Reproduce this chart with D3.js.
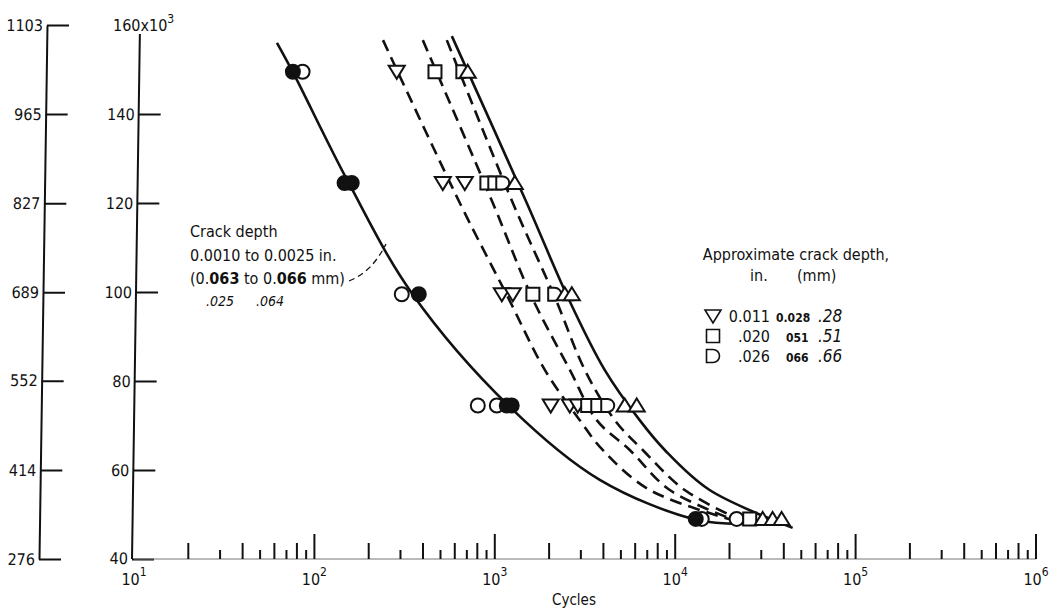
<!DOCTYPE html>
<html><head><meta charset="utf-8">
<script src="https://cdn.jsdelivr.net/npm/d3@7"></script>
<style>
html,body{margin:0;padding:0;background:#fff;}
svg{display:block;}
text{font-family:'Liberation Sans Narrow','DejaVu Sans Condensed',sans-serif;fill:#111;}
</style></head>
<body><svg id="c" width="1064" height="614"></svg>
<script>
// ---- data (cycles, stress ksi) ----
const ksiTicks = [40, 60, 80, 100, 120, 140];
const mpaTicks = [276, 414, 552, 689, 827, 965, 1103];
const cycleDecades = [10, 100, 1000, 10000, 100000, 1000000];
const decadeExponents = ["1", "2", "3", "4", "5", "6"];

const circleOpen = [[86,149.5],[305,99.5],[805,74.5],[1026,74.5],[14030,49],[21900,49]];
const circleFilled = [[76,149.5],[147,124.5],[161,124.5],[379,99.5],[1165,74.5],[1241,74.5],[13000,49]];
const triDown = [[286,149.5],[515,124.5],[682,124.5],[1094,99.5],[1259,99.5],[2042,74.5],[2604,74.5],[2884,74.5]];
const squares = [[466,149.5],[904,124.5],[1000,124.5],[1626,99.5],[3273,74.5],[3722,74.5],[25880,49]];
const dShapes = [[665,149.5],[1107,124.5],[2148,99.5],[4227,74.5]];
const triUp = [[708,149.5],[1291,124.5],[2443,99.5],[2673,99.5],[5248,74.5],[6120,74.5],[30550,49],[34670,49],[38900,49]];

const curveCircle = [[62,156],[76,149.4],[155,124.5],[346,99.8],[1211,74.2],[3819,57.8],[13150,48.8],[24270,47.9]];
const curveTriDown = [[240,156.6],[640,120],[1180,98.9],[1893,82.5],[2958,71.2],[3963,64.5],[7230,55.5],[22750,48.3]];
const curveSquare = [[399,156.6],[975,120],[1603,98.9],[2606,82.5],[3673,71.2],[5598,64.5],[9330,55.5],[22750,48.3]];
const curveD = [[542,156.6],[1259,120],[2148,98.9],[3153,82.5],[4624,71.2],[6607,64.5],[11290,55.5],[24270,48.3]];
const curveTriUp = [[578,157.5],[1504,120],[2535,98.9],[4064,82.5],[6353,71.2],[8750,64.5],[15520,55.5],[44770,47]];

const svg = d3.select("#c");
const x = d3.scaleLog().domain([10, 1e6]).range([134, 1036]);
const y = d3.scaleLinear().domain([40, 160]).range([559, 25]);
const yM = d3.scaleLinear().domain([276, 1103]).range([559, 25]);

// ---- axes ----
const skew = Math.atan(-8/534) * 180 / Math.PI;
const outer = svg.append("g").attr("transform", `translate(${47 + 8*25/534},0) skewX(${skew})`)
  .call(d3.axisLeft(yM).tickValues(mpaTicks).tickSizeInner(-22).tickSizeOuter(0).tickPadding(4).tickFormat(d3.format("d")));
const inner = svg.append("g").attr("transform", `translate(${140 + 8*25/534},0) skewX(${skew})`)
  .call(d3.axisLeft(y).tickValues(ksiTicks).tickSizeInner(-22).tickSizeOuter(0).tickPadding(4).tickFormat(d3.format("d")));
[outer, inner].forEach(g => {
  g.selectAll("path.domain").attr("stroke", "#111").attr("stroke-width", 2);
  g.selectAll(".tick line").attr("stroke", "#111").attr("stroke-width", 2);
  g.selectAll(".tick text").attr("font-size", 16).attr("font-family", "'Liberation Sans Narrow','DejaVu Sans Condensed',sans-serif").attr("fill", "#111");
});
inner.select("path.domain").attr("d", `M0,${y(158)}V${y(40)}`);
inner.select(".tick text").attr("dy", "0.25em");
// top label of ksi axis
const topLab = svg.append("text").attr("x", 113).attr("y", 31).attr("font-size", 16);
topLab.append("tspan").text("160x10");
topLab.append("tspan").attr("dy", -8).attr("font-size", 12).text("3");

// x axis baseline and ticks
svg.append("line").attr("x1", x(10)).attr("x2", x(1e6)).attr("y1", 559).attr("y2", 559)
  .attr("stroke", "#777").attr("stroke-width", 1);
const minor = [];
cycleDecades.slice(0, 5).forEach(d => { for (let m = 2; m <= 9; m++) minor.push([m * d, m % 2 === 0 ? 16 : 9]); });
svg.append("g").selectAll("line").data(minor).join("line")
  .attr("x1", d => x(d[0])).attr("x2", d => x(d[0])).attr("y1", 559).attr("y2", d => 559 - d[1])
  .attr("stroke", "#111").attr("stroke-width", 2);
svg.append("g").selectAll("line").data(cycleDecades.slice(1)).join("line")
  .attr("x1", d => x(d)).attr("x2", d => x(d)).attr("y1", 559).attr("y2", 534)
  .attr("stroke", "#111").attr("stroke-width", 2);
const xl = svg.append("g").selectAll("text").data(cycleDecades).join("text")
  .attr("x", d => x(d)).attr("y", 585).attr("text-anchor", "middle").attr("font-size", 16);
xl.append("tspan").text("10");
xl.append("tspan").attr("dy", -9).attr("font-size", 12).text((d, i) => decadeExponents[i]);
svg.append("text").attr("x", 574).attr("y", 605).attr("text-anchor", "middle").attr("font-size", 15).text("Cycles");

// ---- curves ----
const line = d3.line().x(d => x(d[0])).y(d => y(d[1])).curve(d3.curveCatmullRom.alpha(0.5));
const curves = [
  [curveCircle, null], [curveTriDown, "12,7"], [curveSquare, "12,7"], [curveD, "12,7"], [curveTriUp, null]
];
svg.append("g").selectAll("path").data(curves).join("path")
  .attr("d", d => line(d[0])).attr("fill", "none").attr("stroke", "#111").attr("stroke-width", 2.6)
  .attr("stroke-dasharray", d => d[1]);

// ---- markers ----
const sym = {
  circle: "M7,0A7,7 0 1 1 -7,0A7,7 0 1 1 7,0Z",
  triDown: "M-8,-6L8,-6L0,7Z",
  square: "M-6.5,-6.5H6.5V6.5H-6.5Z",
  dShape: "M-6.5,-6.5H0A6.5,6.5 0 0 1 0,6.5H-6.5Z",
  triUp: "M0,-7L8,6L-8,6Z"
};
function markers(data, shape, filled) {
  svg.append("g").selectAll("path").data(data).join("path")
    .attr("transform", d => `translate(${x(d[0])},${y(d[1])})`)
    .attr("d", sym[shape]).attr("fill", filled ? "#111" : "#fff").attr("stroke", "#111").attr("stroke-width", 2);
}
markers(circleOpen, "circle", false);
markers(circleFilled, "circle", true);
markers(triDown, "triDown", false);
markers(squares, "square", false);
markers(dShapes, "dShape", false);
markers(triUp, "triUp", false);

// ---- annotation ----
const ann = svg.append("g").attr("font-size", 16);
ann.append("text").attr("x", 190).attr("y", 237).text("Crack depth");
ann.append("text").attr("x", 190).attr("y", 261).text("0.0010 to 0.0025 in.");
const a3 = ann.append("text").attr("x", 190).attr("y", 284);
a3.append("tspan").text("(0.");
a3.append("tspan").attr("font-weight", "bold").text("063");
a3.append("tspan").text(" to 0.");
a3.append("tspan").attr("font-weight", "bold").text("066");
a3.append("tspan").text(" mm)");
ann.append("text").attr("x", 206).attr("y", 306).attr("font-style", "italic").attr("font-size", 14).text(".025");
ann.append("text").attr("x", 256).attr("y", 306).attr("font-style", "italic").attr("font-size", 14).text(".064");
svg.append("path").attr("d", "M349,281 Q372,272 386,244").attr("fill", "none").attr("stroke", "#111")
  .attr("stroke-width", 1.3).attr("stroke-dasharray", "6,4");

// ---- legend ----
const lg = svg.append("g").attr("font-size", 16);
lg.append("text").attr("x", 796).attr("y", 260).attr("text-anchor", "middle").text("Approximate crack depth,");
lg.append("text").attr("x", 750).attr("y", 281).text("in.");
lg.append("text").attr("x", 797).attr("y", 281).text("(mm)");
const legRows = [["triDown", "0.011", "0.028", ".28"], ["square", ".020", "051", ".51"], ["dShape", ".026", "066", ".66"]];
legRows.forEach((r, i) => {
  const yy = 316 + i * 20;
  svg.append("path").attr("transform", `translate(713,${yy})`).attr("d", sym[r[0]])
    .attr("fill", "#fff").attr("stroke", "#111").attr("stroke-width", 1.6);
  lg.append("text").attr("x", 770).attr("y", yy + 6).attr("text-anchor", "end").text(r[1]);
  lg.append("text").attr("x", i === 0 ? 776 : 786).attr("y", yy + 6).attr("font-weight", "bold").attr("font-size", 12).text(r[2]);
  lg.append("text").attr("x", 818).attr("y", yy + 6).attr("font-style", "italic").attr("font-size", 17).text(r[3]);
});
</script></body></html>
